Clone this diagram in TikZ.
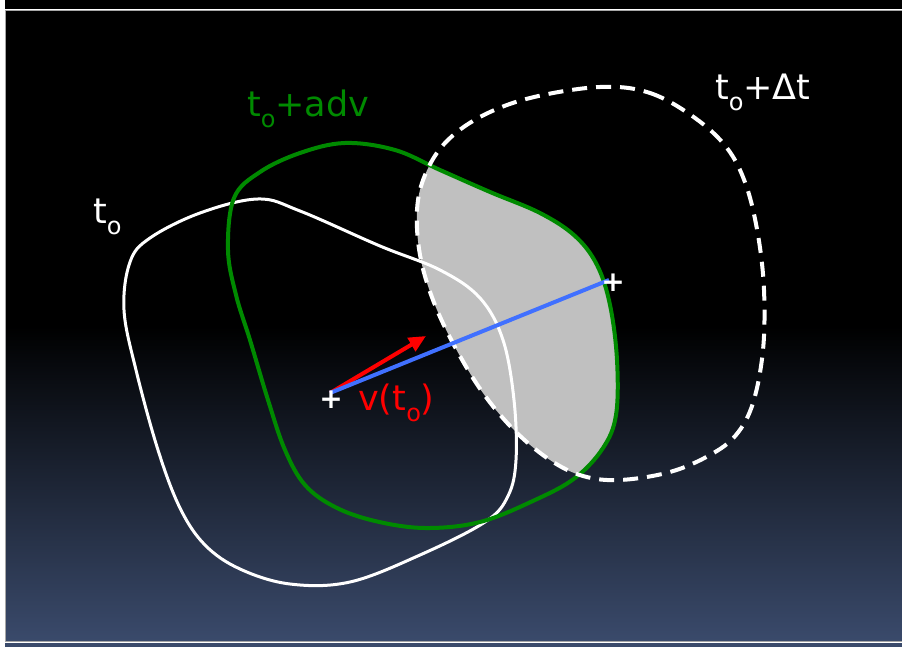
\documentclass[tikz,border=0pt]{standalone}
\usepackage{fontspec}
\setmainfont{DejaVu Sans}
\usetikzlibrary{arrows.meta}
\definecolor{Panel}{HTML}{3A4A6B}
\definecolor{Shade}{HTML}{C0C0C0}
\definecolor{Adv}{HTML}{008A00}
\definecolor{Vel}{HTML}{FF0000}
\definecolor{Track}{HTML}{4070FF}
\newcommand\subo{\raisebox{-11pt}{\fontsize{24}{24}\selectfont o}}

\begin{document}
\begin{tikzpicture}[
    x=1pt,y=-1pt,
    lbl/.style={inner sep=0pt,anchor=base west,font=\fontsize{35}{40}\selectfont},
    pluslbl/.style={inner sep=0pt,text=white,font=\fontsize{28}{28}\selectfont\bfseries},
    oldblob/.style={insert path={plot[smooth cycle,tension=0.6] coordinates {
        (124,310) (130,262) (150,238) (200,213) (258,199) (300,211) (380,246)
        (440,270) (480,298) (503,340) (514,400) (516,460) (508,496) (485,522)
        (420,555) (350,582) (290,584) (240,569) (205,545) (180,508) (158,450) (136,370)}}},
    advblob/.style={insert path={plot[smooth cycle,tension=0.6] coordinates {
        (228,250) (234,198) (260,172) (300,153) (345,143) (395,150) (440,170)
        (490,192) (540,213) (575,236) (597,265) (610,305) (617,360) (616,415)
        (603,448) (575,478) (535,500) (480,522) (425,528) (375,521) (335,507)
        (305,485) (285,450) (268,400) (250,340) (236,295)}}},
    newblob/.style={insert path={plot[smooth cycle,tension=0.6] coordinates {
        (600,87) (650,93) (695,118) (727,148) (746,185) (758,235) (764,290)
        (763,350) (753,403) (736,435) (710,455) (670,472) (620,480) (583,476)
        (550,460) (515,431) (483,393) (455,347) (433,300) (420,255) (417,210)
        (425,175) (445,143) (480,117) (530,98)}}},
    arrow/.style={-{Triangle[length=17pt,width=15pt]},line width=4pt,Vel}
  ]
    \fill[white] (0,0) rectangle (902,647);
    \useasboundingbox (0,0) rectangle (902,647);
    \fill[black] (5,0) rectangle (902,9);
    \fill[Panel] (5,643) rectangle (902,647);
    \shade[top color=black,bottom color=Panel,middle color=black] (6,11) rectangle (902,641);
    \draw[gray!70,line width=0.8pt] (5.5,10.5) rectangle (903,641.5);

    \begin{scope}
      \clip[advblob];
      \fill[Shade,newblob];
    \end{scope}
    \draw[white,line width=3pt,oldblob];
    \draw[Adv,line width=4pt,advblob];
    \draw[white,line width=4pt,dash pattern=on 15pt off 9pt,newblob];

    \coordinate (c0) at (330,393);
    \coordinate (c1) at (609,280);
    \coordinate (v) at (426,336);
    \draw[arrow] (c0)--(v);
    \draw[Track,line width=4pt] (c0)--(c1);
    \node[pluslbl] (p0) at (331,400) {+};
    \node[pluslbl] (p1) at (613,283) {+};

    \node[lbl,text=white] (lo) at (93,223) {t\subo};
    \node[lbl,text=Adv] (la) at (247,117) {t\subo+adv};
    \node[lbl,text=white] (ld) at (715,100) {t\subo+Δt};
    \node[lbl,text=Vel] (lv) at (358,410) {v(t\subo)};
  \end{tikzpicture}
\end{document}
